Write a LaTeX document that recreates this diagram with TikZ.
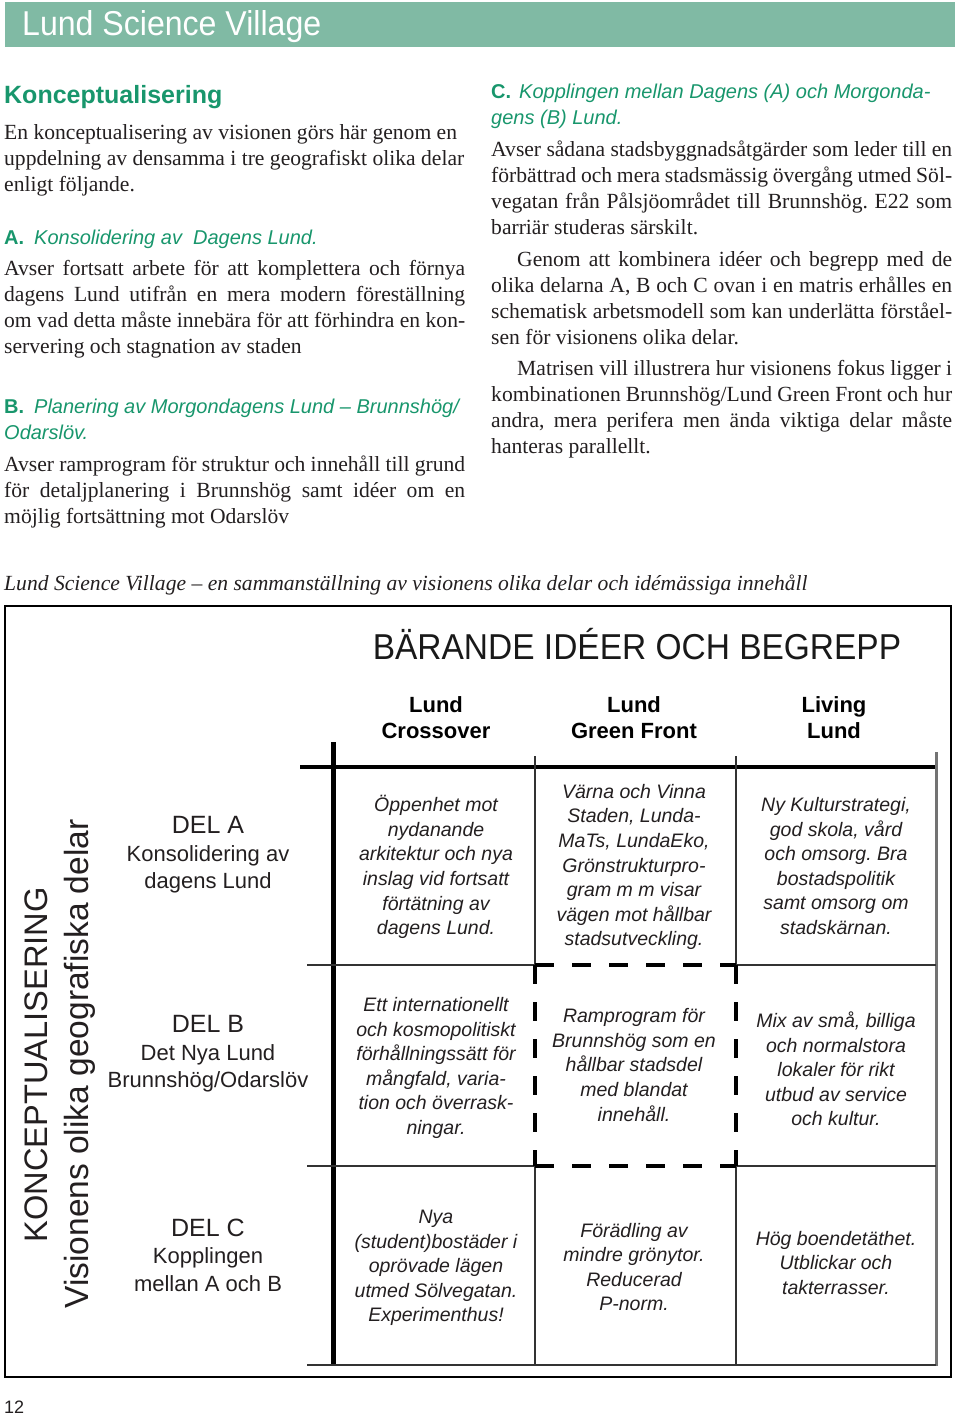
\documentclass[tikz,border=0pt]{standalone}
\usepackage{fontspec}
\setmainfont{Liberation Serif}
\setsansfont{Liberation Sans}
\definecolor{barGreen}{RGB}{128,186,164}
\definecolor{headGreen}{RGB}{24,150,108}
\definecolor{inkGrey}{RGB}{35,31,32}
% justified line of a column
\newcommand{\jline}[1]{\makebox[461pt][s]{#1}}
\newcommand{\delhead}[1]{{\fontsize{25}{27.5}\selectfont #1}}
\frenchspacing

\begin{document}
\begin{tikzpicture}[x=1pt, y=-1pt,
    bodytext/.style={anchor=base west, inner sep=0pt, align=left, text=inkGrey,
      font=\fontsize{21.6}{26}\selectfont},
    greenhead/.style={anchor=base west, inner sep=0pt, align=left, text=headGreen,
      font=\sffamily\itshape\fontsize{20}{26}\selectfont},
    colhead/.style={align=center, inner sep=0pt, font=\sffamily\bfseries\fontsize{22}{26}\selectfont},
    dellabel/.style={align=center, inner sep=0pt, text=inkGrey, font=\sffamily\fontsize{22}{27.5}\selectfont},
    cellnote/.style={align=center, inner sep=0pt, text=inkGrey,
      font=\sffamily\itshape\fontsize{19.5}{24.6}\selectfont},
    gridthin/.style={line width=1.5pt, draw=black!80},
    dashbox/.style={line width=4pt, dash pattern=on 19pt off 18pt}]
  \useasboundingbox (0,0) rectangle (960,1415);

  % title bar
  \fill[barGreen] (5,2) rectangle (955,47);
  \node[anchor=base west, inner sep=0pt, text=white, font=\sffamily\fontsize{34.5}{34}\selectfont]
    (title) at (22,36) {\scalebox{0.93}[1]{Lund Science Village}};

  % left column (multi-line nodes sit on the baseline of their last line)
  \node[anchor=base west, inner sep=0pt, text=headGreen, font=\sffamily\bfseries\fontsize{25}{30}\selectfont]
    (konc) at (4,104) {Konceptualisering};
  \node[bodytext] (introPar) at (4,192) {En konceptualisering av visionen görs här genom en\\
    uppdelning av densamma i tre geografiskt olika delar\\
    enligt följande.};
  \node[greenhead] (headA) at (4,244) {\textbf{\upshape A.}\hspace{10pt}Konsolidering av\ \ Dagens Lund.};
  \node[bodytext] (parA) at (4,353) {\jline{Avser fortsatt arbete för att komplettera och förnya}\\
    \jline{dagens Lund utifrån en mera modern föreställning}\\
    \jline{om vad detta måste innebära för att förhindra en kon-}\\
    servering och stagnation av staden};
  \node[greenhead] (headB) at (4,439) {\textbf{\upshape B.}\hspace{10pt}Planering av Morgondagens Lund -- Brunnshög/\\
    Odarslöv.};
  \node[bodytext] (parB) at (4,523) {\jline{Avser ramprogram för struktur och innehåll till grund}\\
    \jline{för detaljplanering i Brunnshög samt idéer om en}\\
    möjlig fortsättning mot Odarslöv};

  % right column
  \node[greenhead] (headC) at (491,125) {\textbf{\upshape C.}\hspace{8pt}Kopplingen mellan Dagens (A) och Morgonda-\\
    gens (B) Lund.};
  \node[bodytext] (parC) at (491,235) {\jline{Avser sådana stadsbyggnadsåtgärder som leder till en}\\
    \jline{förbättrad och mera stadsmässig övergång utmed Söl-}\\
    \jline{vegatan från Pålsjöområdet till Brunnshög. E22 som}\\
    barriär studeras särskilt.};
  \node[bodytext] (parGenom) at (491,344) {\jline{\hspace*{26pt}Genom att kombinera idéer och begrepp med de}\\
    \jline{olika delarna A, B och C ovan i en matris erhålles en}\\
    \jline{schematisk arbetsmodell som kan underlätta förståel-}\\
    sen för visionens olika delar.};
  \node[bodytext] (parMatris) at (491,453) {\jline{\hspace*{26pt}Matrisen vill illustrera hur visionens fokus ligger i}\\
    \jline{kombinationen Brunnshög/Lund Green Front och hur}\\
    \jline{andra, mera perifera men ända viktiga delar måste}\\
    hanteras parallellt.};

  % caption
  \node[anchor=base west, inner sep=0pt, text=inkGrey, font=\itshape\fontsize{21.6}{24}\selectfont]
    (caption) at (4,590) {Lund Science Village -- en sammanställning av visionens olika delar och idémässiga innehåll};

  % matrix frame and grid
  \draw[line width=2.2pt] (5,606) rectangle (951,1377);
  \draw[line width=5pt] (333,742) -- (333,1366);
  \draw[line width=4pt] (300,767) -- (937,767);
  \draw[line width=3pt, draw=black!55] (936,752) -- (936,1366);
  \foreach \gx in {535,736} {
    \draw[gridthin] (\gx,756) -- (\gx,965);
    \draw[gridthin] (\gx,1166) -- (\gx,1365);
  }
  \foreach \gy in {965,1166} {
    \draw[gridthin] (307,\gy) -- (535,\gy);
    \draw[gridthin] (736,\gy) -- (936,\gy);
  }
  \draw[gridthin] (307,1365) -- (936,1365);
  % focus box
  \draw[dashbox] (535,965) -- (736,965);
  \draw[dashbox] (535,1166) -- (736,1166);
  \draw[dashbox] (535,965) -- (535,1166);
  \draw[dashbox] (736,965) -- (736,1166);

  % headings of the matrix
  \node[inner sep=0pt, text=black!90, font=\sffamily\fontsize{36}{36}\selectfont]
    (idea) at (637,644) {\scalebox{0.93}[1]{BÄRANDE IDÉER OCH BEGREPP}};
  \node[colhead] (crossover) at (436,718) {Lund\\Crossover};
  \node[colhead] (greenfront) at (634,718) {Lund\\Green Front};
  \node[colhead] (living) at (834,718) {Living\\Lund};

  \node[rotate=90, anchor=base, inner sep=0pt, text=inkGrey, font=\sffamily\fontsize{32.6}{33}\selectfont]
    (koncside) at (47,1065) {KONCEPTUALISERING};
  \node[rotate=90, anchor=base, inner sep=0pt, text=inkGrey, font=\sffamily\fontsize{33.5}{34}\selectfont]
    (delarside) at (88,1064) {Visionens olika geografiska delar};

  \node[dellabel] (delA) at (208,855) {\delhead{DEL A}\\Konsolidering av\\dagens Lund};
  \node[dellabel] (delB) at (208,1054) {\delhead{DEL B}\\Det Nya Lund\\Brunnshög/Odarslöv};
  \node[dellabel] (delC) at (208,1255) {\delhead{DEL C}\\Kopplingen\\mellan A och B};

  % cells
  \node[cellnote] (cellAa) at (436,867) {Öppenhet mot\\nydanande\\arkitektur och nya\\inslag vid fortsatt\\förtätning av\\dagens Lund.};
  \node[cellnote] (cellAb) at (634,867) {Värna och Vinna\\Staden, Lunda-\\MaTs, LundaEko,\\Grönstrukturpro-\\gram m m visar\\vägen mot hållbar\\stadsutveckling.};
  \node[cellnote] (cellAc) at (836,866) {Ny Kulturstrategi,\\god skola, vård\\och omsorg. Bra\\bostadspolitik\\samt omsorg om\\stadskärnan.};
  \node[cellnote] (cellBa) at (436,1068) {Ett internationellt\\och kosmopolitiskt\\förhållningssätt för\\mångfald, varia-\\tion och överrask-\\ningar.};
  \node[cellnote] (cellBb) at (634,1065) {Ramprogram för\\Brunnshög som en\\hållbar stadsdel\\med blandat\\innehåll.};
  \node[cellnote] (cellBc) at (836,1069) {Mix av små, billiga\\och normalstora\\lokaler för rikt\\utbud av service\\och kultur.};
  \node[cellnote] (cellCa) at (436,1268) {Nya\\(student)bostäder i\\oprövade lägen\\utmed Sölvegatan.\\Experimenthus!};
  \node[cellnote] (cellCb) at (634,1267) {Förädling av\\mindre grönytor.\\Reducerad\\P-norm.};
  \node[cellnote] (cellCc) at (836,1263) {Hög boendetäthet.\\Utblickar och\\takterrasser.};

  % page number
  \node[anchor=base west, inner sep=0pt, text=inkGrey, font=\sffamily\fontsize{18}{18}\selectfont]
    (pageno) at (4,1413) {12};
\end{tikzpicture}
\end{document}
